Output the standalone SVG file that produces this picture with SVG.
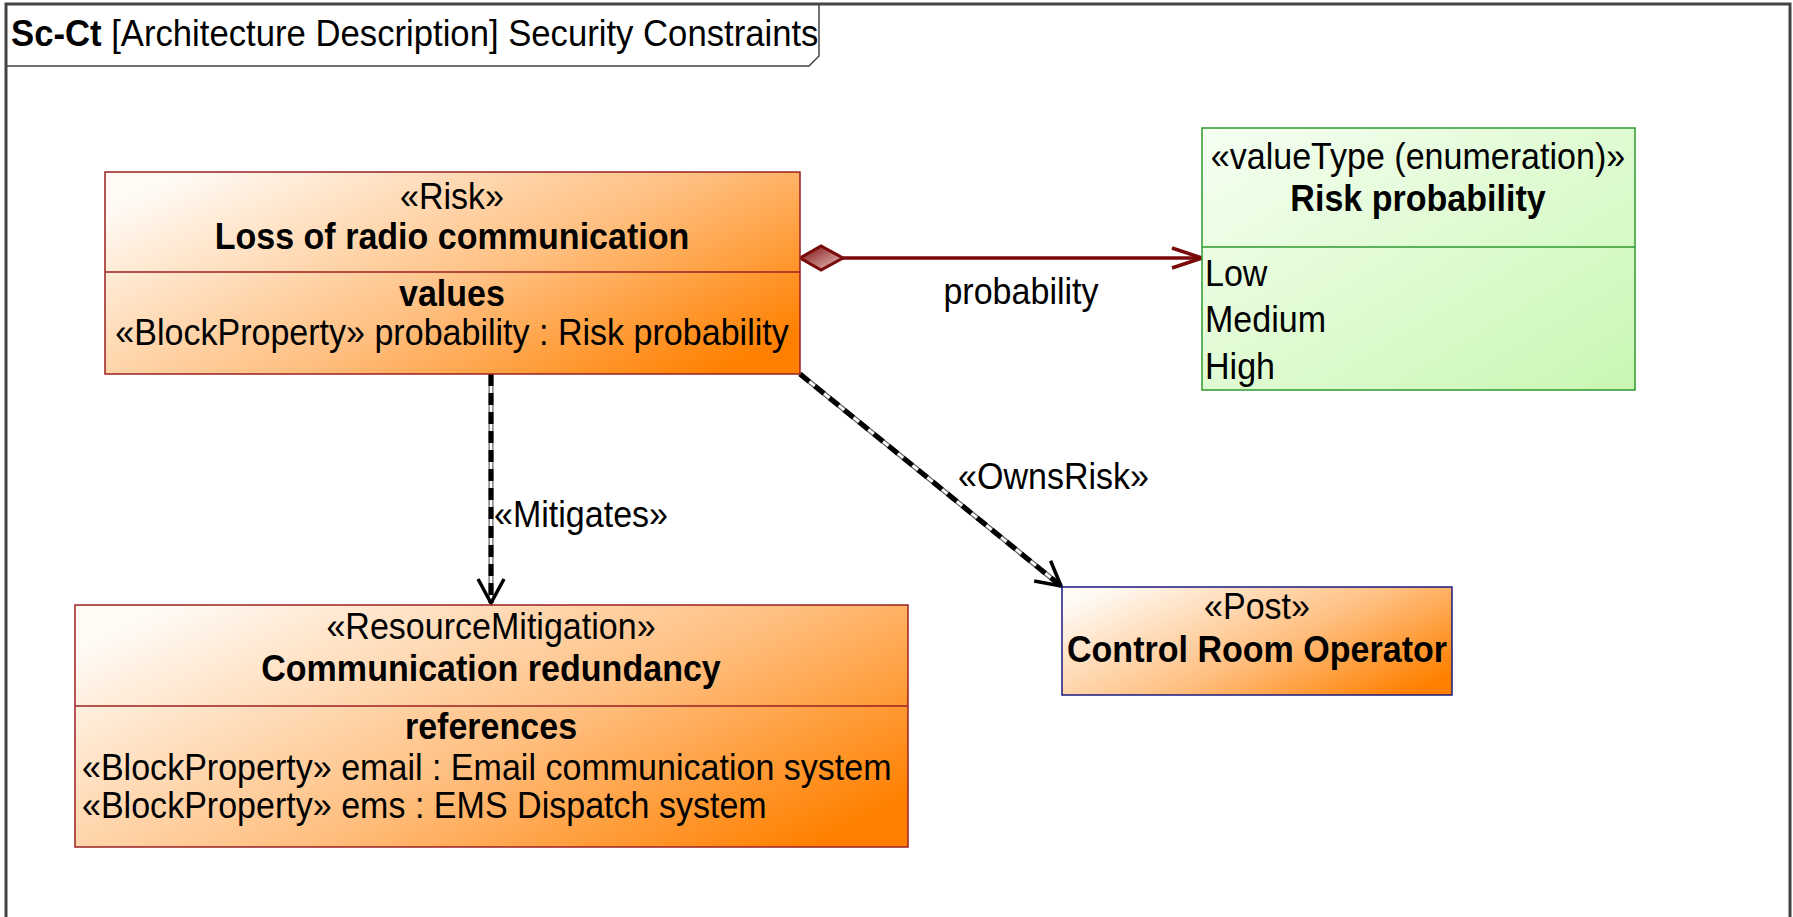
<svg xmlns="http://www.w3.org/2000/svg" width="1793" height="917" viewBox="0 0 1793 917">
<defs>
<linearGradient id="org" x1="0" y1="0.2" x2="1" y2="0.8">
<stop offset="0" stop-color="#fffaf4"/>
<stop offset="0.55" stop-color="#ffbf80"/>
<stop offset="1" stop-color="#ff8000"/>
</linearGradient>
<linearGradient id="grn" x1="0" y1="0" x2="1" y2="1">
<stop offset="0" stop-color="#f6fff3"/>
<stop offset="1" stop-color="#c9f7b2"/>
</linearGradient>
<linearGradient id="dia" x1="0" y1="0" x2="1" y2="1">
<stop offset="0" stop-color="#7a0a0a"/>
<stop offset="1" stop-color="#f0c8c8"/>
</linearGradient>
<marker id="openArrow" viewBox="0 0 28 30" refX="26" refY="15" markerWidth="28" markerHeight="30" markerUnits="userSpaceOnUse" orient="auto">
<path d="M2,2 L26,15 L2,28" fill="none" stroke="#000" stroke-width="3.5"/>
</marker>
<marker id="redArrow" viewBox="0 0 34 26" refX="32" refY="13" markerWidth="34" markerHeight="26" markerUnits="userSpaceOnUse" orient="auto">
<path d="M2,3 L32,13 L2,23" fill="none" stroke="#7a0a0a" stroke-width="3.5"/>
</marker>
</defs>
<style>
text{font-family:"Liberation Sans",Arial,sans-serif;font-size:37px;fill:#000;transform-box:fill-box;transform-origin:center;transform:scaleX(0.92)}
.l{transform-origin:left center}
.t{font-size:37.5px;transform:scaleX(0.925)}
.b{font-weight:bold}
.c{text-anchor:middle}
.orange{fill:url(#org);stroke:#9b2020;stroke-width:1.5}
.green{fill:url(#grn);stroke:#2e9a2e;stroke-width:1.5}
.blue{fill:url(#org);stroke:#1a1a80;stroke-width:1.5}
.divR{stroke:#9b2020;stroke-width:1.5}
.divG{stroke:#2e9a2e;stroke-width:1.5}
.depBase{fill:none;stroke:#666;stroke-width:5}
.depCore{fill:none;stroke:#fff;stroke-width:2.5}
.depDash{fill:none;stroke:#000;stroke-width:5;stroke-dasharray:12 7}
</style>
<rect width="1793" height="917" fill="#fff"/>
<g id="frame">
<rect x="6" y="4" width="1784" height="930" fill="#fff" stroke="#444" stroke-width="3"/>
<path d="M6,66 L809,66 L819,56 L819,4" fill="none" stroke="#444" stroke-width="1.5"/>
<text class="l t" x="11" y="46"><tspan class="b">Sc-Ct</tspan> [Architecture Description] Security Constraints</text>
</g>
<g id="connectors">
<g id="composition">
<line x1="843" y1="258" x2="1202" y2="258" stroke="#7a0a0a" stroke-width="3.5" marker-end="url(#redArrow)"/>
<path d="M800,258 L821,246 L843,258 L821,270 Z" fill="url(#dia)" stroke="#7a0a0a" stroke-width="3"/>
<text class="c" x="1021" y="304">probability</text>
</g>
<g id="mitigates">
<line class="depBase" x1="491" y1="374" x2="491" y2="603"/>
<line class="depCore" x1="491" y1="374" x2="491" y2="603"/>
<line class="depDash" x1="491" y1="374" x2="491" y2="603" marker-end="url(#openArrow)"/>
<text class="l" x="494" y="527">«Mitigates»</text>
</g>
<g id="ownsrisk">
<line class="depBase" x1="800" y1="374" x2="1061" y2="586"/>
<line class="depCore" x1="800" y1="374" x2="1061" y2="586"/>
<line class="depDash" x1="800" y1="374" x2="1061" y2="586" marker-end="url(#openArrow)"/>
<text class="l" x="958" y="489">«OwnsRisk»</text>
</g>
</g>
<g id="risk">
<rect class="orange" x="105" y="172" width="695" height="202"/>
<line class="divR" x1="105" y1="272" x2="800" y2="272"/>
<text class="c" x="452" y="209">«Risk»</text>
<text class="c b" x="452" y="249">Loss of radio communication</text>
<text class="c b" x="452" y="306">values</text>
<text class="c" x="452" y="345">«BlockProperty» probability : Risk probability</text>
</g>
<g id="riskprobability">
<rect class="green" x="1202" y="128" width="433" height="262"/>
<line class="divG" x1="1202" y1="247" x2="1635" y2="247"/>
<text class="c" x="1418" y="169">«valueType (enumeration)»</text>
<text class="c b" x="1418" y="211">Risk probability</text>
<text class="l" x="1205" y="286">Low</text>
<text class="l" x="1205" y="332">Medium</text>
<text class="l" x="1205" y="379">High</text>
</g>
<g id="redundancy">
<rect class="orange" x="75" y="605" width="833" height="242"/>
<line class="divR" x1="75" y1="706" x2="908" y2="706"/>
<text class="c" x="491" y="639">«ResourceMitigation»</text>
<text class="c b" x="491" y="681">Communication redundancy</text>
<text class="c b" x="491" y="739">references</text>
<text class="l" x="82" y="780">«BlockProperty» email : Email communication system</text>
<text class="l" x="82" y="818">«BlockProperty» ems : EMS Dispatch system</text>
</g>
<g id="operator">
<rect class="blue" x="1062" y="587" width="390" height="108"/>
<text class="c" x="1257" y="619">«Post»</text>
<text class="c b" x="1257" y="662">Control Room Operator</text>
</g>
</svg>
